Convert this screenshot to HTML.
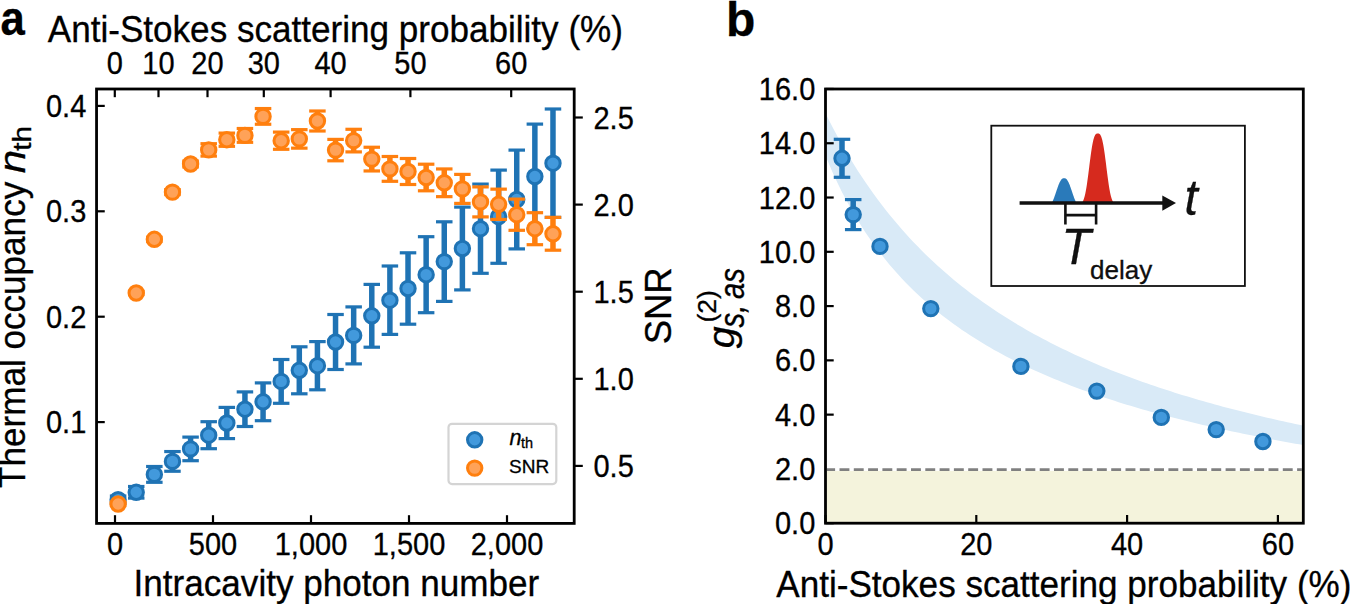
<!DOCTYPE html>
<html><head><meta charset="utf-8"><style>
html,body{margin:0;padding:0;background:#fff;}
body{width:1350px;height:604px;overflow:hidden;}
svg{display:block;}
text{font-family:"Liberation Sans", sans-serif;fill:#000;stroke:#000;stroke-width:0.3px;}
.tk{font-size:29.6px;}
.lab{font-size:35.8px;}
</style></head><body>
<svg width="1350" height="604" viewBox="0 0 1350 604">
<rect x="96.55" y="89.0" width="477.65000000000003" height="434.4" fill="none" stroke="#000" stroke-width="2.8"/>
<line x1="115.00" y1="523.4" x2="115.00" y2="515.1999999999999" stroke="#000" stroke-width="2.2"/>
<text transform="translate(115.00,554.80) scale(1.0,1.085)" text-anchor="middle" style="font-size:29.0px;" >0</text>
<line x1="213.00" y1="523.4" x2="213.00" y2="515.1999999999999" stroke="#000" stroke-width="2.2"/>
<text transform="translate(213.00,554.80) scale(1.0,1.085)" text-anchor="middle" style="font-size:29.0px;" >500</text>
<line x1="311.00" y1="523.4" x2="311.00" y2="515.1999999999999" stroke="#000" stroke-width="2.2"/>
<text transform="translate(311.00,554.80) scale(1.0,1.085)" text-anchor="middle" style="font-size:29.0px;" >1,000</text>
<line x1="409.00" y1="523.4" x2="409.00" y2="515.1999999999999" stroke="#000" stroke-width="2.2"/>
<text transform="translate(409.00,554.80) scale(1.0,1.085)" text-anchor="middle" style="font-size:29.0px;" >1,500</text>
<line x1="507.00" y1="523.4" x2="507.00" y2="515.1999999999999" stroke="#000" stroke-width="2.2"/>
<text transform="translate(507.00,554.80) scale(1.0,1.085)" text-anchor="middle" style="font-size:29.0px;" >2,000</text>
<line x1="114.8" y1="89.0" x2="114.8" y2="97.2" stroke="#000" stroke-width="2.2"/>
<text transform="translate(114.80,73.60) scale(1.0,1.085)" text-anchor="middle" style="font-size:29.0px;" >0</text>
<line x1="158.5" y1="89.0" x2="158.5" y2="97.2" stroke="#000" stroke-width="2.2"/>
<text transform="translate(158.50,73.60) scale(1.0,1.085)" text-anchor="middle" style="font-size:29.0px;" >10</text>
<line x1="207.5" y1="89.0" x2="207.5" y2="97.2" stroke="#000" stroke-width="2.2"/>
<text transform="translate(207.50,73.60) scale(1.0,1.085)" text-anchor="middle" style="font-size:29.0px;" >20</text>
<line x1="263.8" y1="89.0" x2="263.8" y2="97.2" stroke="#000" stroke-width="2.2"/>
<text transform="translate(263.80,73.60) scale(1.0,1.085)" text-anchor="middle" style="font-size:29.0px;" >30</text>
<line x1="330.6" y1="89.0" x2="330.6" y2="97.2" stroke="#000" stroke-width="2.2"/>
<text transform="translate(330.60,73.60) scale(1.0,1.085)" text-anchor="middle" style="font-size:29.0px;" >40</text>
<line x1="410.4" y1="89.0" x2="410.4" y2="97.2" stroke="#000" stroke-width="2.2"/>
<text transform="translate(410.40,73.60) scale(1.0,1.085)" text-anchor="middle" style="font-size:29.0px;" >50</text>
<line x1="511.2" y1="89.0" x2="511.2" y2="97.2" stroke="#000" stroke-width="2.2"/>
<text transform="translate(511.20,73.60) scale(1.0,1.085)" text-anchor="middle" style="font-size:29.0px;" >60</text>
<line x1="96.55" y1="422.10" x2="104.75" y2="422.10" stroke="#000" stroke-width="2.2"/>
<text transform="translate(86.30,433.10) scale(1.0,1.085)" text-anchor="end" style="font-size:29.0px;" >0.1</text>
<line x1="96.55" y1="316.70" x2="104.75" y2="316.70" stroke="#000" stroke-width="2.2"/>
<text transform="translate(86.30,327.70) scale(1.0,1.085)" text-anchor="end" style="font-size:29.0px;" >0.2</text>
<line x1="96.55" y1="211.30" x2="104.75" y2="211.30" stroke="#000" stroke-width="2.2"/>
<text transform="translate(86.30,222.30) scale(1.0,1.085)" text-anchor="end" style="font-size:29.0px;" >0.3</text>
<line x1="96.55" y1="105.90" x2="104.75" y2="105.90" stroke="#000" stroke-width="2.2"/>
<text transform="translate(86.30,116.90) scale(1.0,1.085)" text-anchor="end" style="font-size:29.0px;" >0.4</text>
<line x1="574.2" y1="465.90" x2="582.8000000000001" y2="465.90" stroke="#000" stroke-width="2.2"/>
<text transform="translate(593.50,476.90) scale(1.0,1.085)" text-anchor="start" style="font-size:29.0px;" >0.5</text>
<line x1="574.2" y1="378.80" x2="582.8000000000001" y2="378.80" stroke="#000" stroke-width="2.2"/>
<text transform="translate(593.50,389.80) scale(1.0,1.085)" text-anchor="start" style="font-size:29.0px;" >1.0</text>
<line x1="574.2" y1="291.70" x2="582.8000000000001" y2="291.70" stroke="#000" stroke-width="2.2"/>
<text transform="translate(593.50,302.70) scale(1.0,1.085)" text-anchor="start" style="font-size:29.0px;" >1.5</text>
<line x1="574.2" y1="204.60" x2="582.8000000000001" y2="204.60" stroke="#000" stroke-width="2.2"/>
<text transform="translate(593.50,215.60) scale(1.0,1.085)" text-anchor="start" style="font-size:29.0px;" >2.0</text>
<line x1="574.2" y1="117.50" x2="582.8000000000001" y2="117.50" stroke="#000" stroke-width="2.2"/>
<text transform="translate(593.50,128.50) scale(1.0,1.085)" text-anchor="start" style="font-size:29.0px;" >2.5</text>
<line x1="118.10" y1="496.00" x2="118.10" y2="503.40" stroke="#1f73b4" stroke-width="5.5"/>
<line x1="109.85" y1="496.00" x2="126.35" y2="496.00" stroke="#1f73b4" stroke-width="3.2"/>
<line x1="109.85" y1="503.40" x2="126.35" y2="503.40" stroke="#1f73b4" stroke-width="3.2"/>
<line x1="136.22" y1="486.50" x2="136.22" y2="498.10" stroke="#1f73b4" stroke-width="5.5"/>
<line x1="127.97" y1="486.50" x2="144.47" y2="486.50" stroke="#1f73b4" stroke-width="3.2"/>
<line x1="127.97" y1="498.10" x2="144.47" y2="498.10" stroke="#1f73b4" stroke-width="3.2"/>
<line x1="154.34" y1="466.50" x2="154.34" y2="482.30" stroke="#1f73b4" stroke-width="5.5"/>
<line x1="146.09" y1="466.50" x2="162.59" y2="466.50" stroke="#1f73b4" stroke-width="3.2"/>
<line x1="146.09" y1="482.30" x2="162.59" y2="482.30" stroke="#1f73b4" stroke-width="3.2"/>
<line x1="172.46" y1="451.55" x2="172.46" y2="471.25" stroke="#1f73b4" stroke-width="5.5"/>
<line x1="164.21" y1="451.55" x2="180.71" y2="451.55" stroke="#1f73b4" stroke-width="3.2"/>
<line x1="164.21" y1="471.25" x2="180.71" y2="471.25" stroke="#1f73b4" stroke-width="3.2"/>
<line x1="190.58" y1="437.10" x2="190.58" y2="460.70" stroke="#1f73b4" stroke-width="5.5"/>
<line x1="182.33" y1="437.10" x2="198.83" y2="437.10" stroke="#1f73b4" stroke-width="3.2"/>
<line x1="182.33" y1="460.70" x2="198.83" y2="460.70" stroke="#1f73b4" stroke-width="3.2"/>
<line x1="208.70" y1="421.70" x2="208.70" y2="448.70" stroke="#1f73b4" stroke-width="5.5"/>
<line x1="200.45" y1="421.70" x2="216.95" y2="421.70" stroke="#1f73b4" stroke-width="3.2"/>
<line x1="200.45" y1="448.70" x2="216.95" y2="448.70" stroke="#1f73b4" stroke-width="3.2"/>
<line x1="226.82" y1="407.40" x2="226.82" y2="438.60" stroke="#1f73b4" stroke-width="5.5"/>
<line x1="218.57" y1="407.40" x2="235.07" y2="407.40" stroke="#1f73b4" stroke-width="3.2"/>
<line x1="218.57" y1="438.60" x2="235.07" y2="438.60" stroke="#1f73b4" stroke-width="3.2"/>
<line x1="244.94" y1="391.90" x2="244.94" y2="426.50" stroke="#1f73b4" stroke-width="5.5"/>
<line x1="236.69" y1="391.90" x2="253.19" y2="391.90" stroke="#1f73b4" stroke-width="3.2"/>
<line x1="236.69" y1="426.50" x2="253.19" y2="426.50" stroke="#1f73b4" stroke-width="3.2"/>
<line x1="263.06" y1="382.90" x2="263.06" y2="420.70" stroke="#1f73b4" stroke-width="5.5"/>
<line x1="254.81" y1="382.90" x2="271.31" y2="382.90" stroke="#1f73b4" stroke-width="3.2"/>
<line x1="254.81" y1="420.70" x2="271.31" y2="420.70" stroke="#1f73b4" stroke-width="3.2"/>
<line x1="281.18" y1="359.50" x2="281.18" y2="403.30" stroke="#1f73b4" stroke-width="5.5"/>
<line x1="272.93" y1="359.50" x2="289.43" y2="359.50" stroke="#1f73b4" stroke-width="3.2"/>
<line x1="272.93" y1="403.30" x2="289.43" y2="403.30" stroke="#1f73b4" stroke-width="3.2"/>
<line x1="299.30" y1="346.80" x2="299.30" y2="393.80" stroke="#1f73b4" stroke-width="5.5"/>
<line x1="291.05" y1="346.80" x2="307.55" y2="346.80" stroke="#1f73b4" stroke-width="3.2"/>
<line x1="291.05" y1="393.80" x2="307.55" y2="393.80" stroke="#1f73b4" stroke-width="3.2"/>
<line x1="317.42" y1="341.60" x2="317.42" y2="389.80" stroke="#1f73b4" stroke-width="5.5"/>
<line x1="309.17" y1="341.60" x2="325.67" y2="341.60" stroke="#1f73b4" stroke-width="3.2"/>
<line x1="309.17" y1="389.80" x2="325.67" y2="389.80" stroke="#1f73b4" stroke-width="3.2"/>
<line x1="335.54" y1="314.50" x2="335.54" y2="369.50" stroke="#1f73b4" stroke-width="5.5"/>
<line x1="327.29" y1="314.50" x2="343.79" y2="314.50" stroke="#1f73b4" stroke-width="3.2"/>
<line x1="327.29" y1="369.50" x2="343.79" y2="369.50" stroke="#1f73b4" stroke-width="3.2"/>
<line x1="353.66" y1="306.90" x2="353.66" y2="363.90" stroke="#1f73b4" stroke-width="5.5"/>
<line x1="345.41" y1="306.90" x2="361.91" y2="306.90" stroke="#1f73b4" stroke-width="3.2"/>
<line x1="345.41" y1="363.90" x2="361.91" y2="363.90" stroke="#1f73b4" stroke-width="3.2"/>
<line x1="371.78" y1="284.40" x2="371.78" y2="347.20" stroke="#1f73b4" stroke-width="5.5"/>
<line x1="363.53" y1="284.40" x2="380.03" y2="284.40" stroke="#1f73b4" stroke-width="3.2"/>
<line x1="363.53" y1="347.20" x2="380.03" y2="347.20" stroke="#1f73b4" stroke-width="3.2"/>
<line x1="389.90" y1="266.00" x2="389.90" y2="334.40" stroke="#1f73b4" stroke-width="5.5"/>
<line x1="381.65" y1="266.00" x2="398.15" y2="266.00" stroke="#1f73b4" stroke-width="3.2"/>
<line x1="381.65" y1="334.40" x2="398.15" y2="334.40" stroke="#1f73b4" stroke-width="3.2"/>
<line x1="408.02" y1="252.80" x2="408.02" y2="324.20" stroke="#1f73b4" stroke-width="5.5"/>
<line x1="399.77" y1="252.80" x2="416.27" y2="252.80" stroke="#1f73b4" stroke-width="3.2"/>
<line x1="399.77" y1="324.20" x2="416.27" y2="324.20" stroke="#1f73b4" stroke-width="3.2"/>
<line x1="426.14" y1="236.70" x2="426.14" y2="312.70" stroke="#1f73b4" stroke-width="5.5"/>
<line x1="417.89" y1="236.70" x2="434.39" y2="236.70" stroke="#1f73b4" stroke-width="3.2"/>
<line x1="417.89" y1="312.70" x2="434.39" y2="312.70" stroke="#1f73b4" stroke-width="3.2"/>
<line x1="444.26" y1="221.80" x2="444.26" y2="301.40" stroke="#1f73b4" stroke-width="5.5"/>
<line x1="436.01" y1="221.80" x2="452.51" y2="221.80" stroke="#1f73b4" stroke-width="3.2"/>
<line x1="436.01" y1="301.40" x2="452.51" y2="301.40" stroke="#1f73b4" stroke-width="3.2"/>
<line x1="462.38" y1="207.10" x2="462.38" y2="289.90" stroke="#1f73b4" stroke-width="5.5"/>
<line x1="454.13" y1="207.10" x2="470.63" y2="207.10" stroke="#1f73b4" stroke-width="3.2"/>
<line x1="454.13" y1="289.90" x2="470.63" y2="289.90" stroke="#1f73b4" stroke-width="3.2"/>
<line x1="480.50" y1="184.10" x2="480.50" y2="273.30" stroke="#1f73b4" stroke-width="5.5"/>
<line x1="472.25" y1="184.10" x2="488.75" y2="184.10" stroke="#1f73b4" stroke-width="3.2"/>
<line x1="472.25" y1="273.30" x2="488.75" y2="273.30" stroke="#1f73b4" stroke-width="3.2"/>
<line x1="498.62" y1="170.10" x2="498.62" y2="263.30" stroke="#1f73b4" stroke-width="5.5"/>
<line x1="490.37" y1="170.10" x2="506.87" y2="170.10" stroke="#1f73b4" stroke-width="3.2"/>
<line x1="490.37" y1="263.30" x2="506.87" y2="263.30" stroke="#1f73b4" stroke-width="3.2"/>
<line x1="516.74" y1="150.10" x2="516.74" y2="248.90" stroke="#1f73b4" stroke-width="5.5"/>
<line x1="508.49" y1="150.10" x2="524.99" y2="150.10" stroke="#1f73b4" stroke-width="3.2"/>
<line x1="508.49" y1="248.90" x2="524.99" y2="248.90" stroke="#1f73b4" stroke-width="3.2"/>
<line x1="534.86" y1="124.10" x2="534.86" y2="228.90" stroke="#1f73b4" stroke-width="5.5"/>
<line x1="526.61" y1="124.10" x2="543.11" y2="124.10" stroke="#1f73b4" stroke-width="3.2"/>
<line x1="526.61" y1="228.90" x2="543.11" y2="228.90" stroke="#1f73b4" stroke-width="3.2"/>
<line x1="552.98" y1="109.00" x2="552.98" y2="217.40" stroke="#1f73b4" stroke-width="5.5"/>
<line x1="544.73" y1="109.00" x2="561.23" y2="109.00" stroke="#1f73b4" stroke-width="3.2"/>
<line x1="544.73" y1="217.40" x2="561.23" y2="217.40" stroke="#1f73b4" stroke-width="3.2"/>
<circle cx="118.10" cy="499.70" r="7.2" fill="#4299dc" stroke="#1f73b4" stroke-width="3.0"/>
<circle cx="136.22" cy="492.30" r="7.2" fill="#4299dc" stroke="#1f73b4" stroke-width="3.0"/>
<circle cx="154.34" cy="474.40" r="7.2" fill="#4299dc" stroke="#1f73b4" stroke-width="3.0"/>
<circle cx="172.46" cy="461.40" r="7.2" fill="#4299dc" stroke="#1f73b4" stroke-width="3.0"/>
<circle cx="190.58" cy="448.90" r="7.2" fill="#4299dc" stroke="#1f73b4" stroke-width="3.0"/>
<circle cx="208.70" cy="435.20" r="7.2" fill="#4299dc" stroke="#1f73b4" stroke-width="3.0"/>
<circle cx="226.82" cy="423.00" r="7.2" fill="#4299dc" stroke="#1f73b4" stroke-width="3.0"/>
<circle cx="244.94" cy="409.20" r="7.2" fill="#4299dc" stroke="#1f73b4" stroke-width="3.0"/>
<circle cx="263.06" cy="401.80" r="7.2" fill="#4299dc" stroke="#1f73b4" stroke-width="3.0"/>
<circle cx="281.18" cy="381.40" r="7.2" fill="#4299dc" stroke="#1f73b4" stroke-width="3.0"/>
<circle cx="299.30" cy="370.30" r="7.2" fill="#4299dc" stroke="#1f73b4" stroke-width="3.0"/>
<circle cx="317.42" cy="365.70" r="7.2" fill="#4299dc" stroke="#1f73b4" stroke-width="3.0"/>
<circle cx="335.54" cy="342.00" r="7.2" fill="#4299dc" stroke="#1f73b4" stroke-width="3.0"/>
<circle cx="353.66" cy="335.40" r="7.2" fill="#4299dc" stroke="#1f73b4" stroke-width="3.0"/>
<circle cx="371.78" cy="315.80" r="7.2" fill="#4299dc" stroke="#1f73b4" stroke-width="3.0"/>
<circle cx="389.90" cy="300.20" r="7.2" fill="#4299dc" stroke="#1f73b4" stroke-width="3.0"/>
<circle cx="408.02" cy="288.50" r="7.2" fill="#4299dc" stroke="#1f73b4" stroke-width="3.0"/>
<circle cx="426.14" cy="274.70" r="7.2" fill="#4299dc" stroke="#1f73b4" stroke-width="3.0"/>
<circle cx="444.26" cy="261.60" r="7.2" fill="#4299dc" stroke="#1f73b4" stroke-width="3.0"/>
<circle cx="462.38" cy="248.50" r="7.2" fill="#4299dc" stroke="#1f73b4" stroke-width="3.0"/>
<circle cx="480.50" cy="228.70" r="7.2" fill="#4299dc" stroke="#1f73b4" stroke-width="3.0"/>
<circle cx="498.62" cy="216.70" r="7.2" fill="#4299dc" stroke="#1f73b4" stroke-width="3.0"/>
<circle cx="516.74" cy="199.50" r="7.2" fill="#4299dc" stroke="#1f73b4" stroke-width="3.0"/>
<circle cx="534.86" cy="176.50" r="7.2" fill="#4299dc" stroke="#1f73b4" stroke-width="3.0"/>
<circle cx="552.98" cy="163.20" r="7.2" fill="#4299dc" stroke="#1f73b4" stroke-width="3.0"/>
<line x1="118.10" y1="502.50" x2="118.10" y2="505.50" stroke="#ff7f0e" stroke-width="5.5"/>
<line x1="109.85" y1="502.50" x2="126.35" y2="502.50" stroke="#ff7f0e" stroke-width="3.2"/>
<line x1="109.85" y1="505.50" x2="126.35" y2="505.50" stroke="#ff7f0e" stroke-width="3.2"/>
<line x1="136.22" y1="291.50" x2="136.22" y2="294.50" stroke="#ff7f0e" stroke-width="5.5"/>
<line x1="127.97" y1="291.50" x2="144.47" y2="291.50" stroke="#ff7f0e" stroke-width="3.2"/>
<line x1="127.97" y1="294.50" x2="144.47" y2="294.50" stroke="#ff7f0e" stroke-width="3.2"/>
<line x1="154.34" y1="237.30" x2="154.34" y2="241.30" stroke="#ff7f0e" stroke-width="5.5"/>
<line x1="146.09" y1="237.30" x2="162.59" y2="237.30" stroke="#ff7f0e" stroke-width="3.2"/>
<line x1="146.09" y1="241.30" x2="162.59" y2="241.30" stroke="#ff7f0e" stroke-width="3.2"/>
<line x1="172.46" y1="189.60" x2="172.46" y2="194.60" stroke="#ff7f0e" stroke-width="5.5"/>
<line x1="164.21" y1="189.60" x2="180.71" y2="189.60" stroke="#ff7f0e" stroke-width="3.2"/>
<line x1="164.21" y1="194.60" x2="180.71" y2="194.60" stroke="#ff7f0e" stroke-width="3.2"/>
<line x1="190.58" y1="161.00" x2="190.58" y2="167.00" stroke="#ff7f0e" stroke-width="5.5"/>
<line x1="182.33" y1="161.00" x2="198.83" y2="161.00" stroke="#ff7f0e" stroke-width="3.2"/>
<line x1="182.33" y1="167.00" x2="198.83" y2="167.00" stroke="#ff7f0e" stroke-width="3.2"/>
<line x1="208.70" y1="143.70" x2="208.70" y2="156.10" stroke="#ff7f0e" stroke-width="5.5"/>
<line x1="200.45" y1="143.70" x2="216.95" y2="143.70" stroke="#ff7f0e" stroke-width="3.2"/>
<line x1="200.45" y1="156.10" x2="216.95" y2="156.10" stroke="#ff7f0e" stroke-width="3.2"/>
<line x1="226.82" y1="133.10" x2="226.82" y2="146.30" stroke="#ff7f0e" stroke-width="5.5"/>
<line x1="218.57" y1="133.10" x2="235.07" y2="133.10" stroke="#ff7f0e" stroke-width="3.2"/>
<line x1="218.57" y1="146.30" x2="235.07" y2="146.30" stroke="#ff7f0e" stroke-width="3.2"/>
<line x1="244.94" y1="128.50" x2="244.94" y2="142.30" stroke="#ff7f0e" stroke-width="5.5"/>
<line x1="236.69" y1="128.50" x2="253.19" y2="128.50" stroke="#ff7f0e" stroke-width="3.2"/>
<line x1="236.69" y1="142.30" x2="253.19" y2="142.30" stroke="#ff7f0e" stroke-width="3.2"/>
<line x1="263.06" y1="108.55" x2="263.06" y2="124.25" stroke="#ff7f0e" stroke-width="5.5"/>
<line x1="254.81" y1="108.55" x2="271.31" y2="108.55" stroke="#ff7f0e" stroke-width="3.2"/>
<line x1="254.81" y1="124.25" x2="271.31" y2="124.25" stroke="#ff7f0e" stroke-width="3.2"/>
<line x1="281.18" y1="132.10" x2="281.18" y2="149.30" stroke="#ff7f0e" stroke-width="5.5"/>
<line x1="272.93" y1="132.10" x2="289.43" y2="132.10" stroke="#ff7f0e" stroke-width="3.2"/>
<line x1="272.93" y1="149.30" x2="289.43" y2="149.30" stroke="#ff7f0e" stroke-width="3.2"/>
<line x1="299.30" y1="129.65" x2="299.30" y2="148.15" stroke="#ff7f0e" stroke-width="5.5"/>
<line x1="291.05" y1="129.65" x2="307.55" y2="129.65" stroke="#ff7f0e" stroke-width="3.2"/>
<line x1="291.05" y1="148.15" x2="307.55" y2="148.15" stroke="#ff7f0e" stroke-width="3.2"/>
<line x1="317.42" y1="111.00" x2="317.42" y2="131.00" stroke="#ff7f0e" stroke-width="5.5"/>
<line x1="309.17" y1="111.00" x2="325.67" y2="111.00" stroke="#ff7f0e" stroke-width="3.2"/>
<line x1="309.17" y1="131.00" x2="325.67" y2="131.00" stroke="#ff7f0e" stroke-width="3.2"/>
<line x1="335.54" y1="139.40" x2="335.54" y2="160.80" stroke="#ff7f0e" stroke-width="5.5"/>
<line x1="327.29" y1="139.40" x2="343.79" y2="139.40" stroke="#ff7f0e" stroke-width="3.2"/>
<line x1="327.29" y1="160.80" x2="343.79" y2="160.80" stroke="#ff7f0e" stroke-width="3.2"/>
<line x1="353.66" y1="129.30" x2="353.66" y2="151.90" stroke="#ff7f0e" stroke-width="5.5"/>
<line x1="345.41" y1="129.30" x2="361.91" y2="129.30" stroke="#ff7f0e" stroke-width="3.2"/>
<line x1="345.41" y1="151.90" x2="361.91" y2="151.90" stroke="#ff7f0e" stroke-width="3.2"/>
<line x1="371.78" y1="147.25" x2="371.78" y2="170.95" stroke="#ff7f0e" stroke-width="5.5"/>
<line x1="363.53" y1="147.25" x2="380.03" y2="147.25" stroke="#ff7f0e" stroke-width="3.2"/>
<line x1="363.53" y1="170.95" x2="380.03" y2="170.95" stroke="#ff7f0e" stroke-width="3.2"/>
<line x1="389.90" y1="156.50" x2="389.90" y2="181.30" stroke="#ff7f0e" stroke-width="5.5"/>
<line x1="381.65" y1="156.50" x2="398.15" y2="156.50" stroke="#ff7f0e" stroke-width="3.2"/>
<line x1="381.65" y1="181.30" x2="398.15" y2="181.30" stroke="#ff7f0e" stroke-width="3.2"/>
<line x1="408.02" y1="158.50" x2="408.02" y2="184.50" stroke="#ff7f0e" stroke-width="5.5"/>
<line x1="399.77" y1="158.50" x2="416.27" y2="158.50" stroke="#ff7f0e" stroke-width="3.2"/>
<line x1="399.77" y1="184.50" x2="416.27" y2="184.50" stroke="#ff7f0e" stroke-width="3.2"/>
<line x1="426.14" y1="164.20" x2="426.14" y2="190.80" stroke="#ff7f0e" stroke-width="5.5"/>
<line x1="417.89" y1="164.20" x2="434.39" y2="164.20" stroke="#ff7f0e" stroke-width="3.2"/>
<line x1="417.89" y1="190.80" x2="434.39" y2="190.80" stroke="#ff7f0e" stroke-width="3.2"/>
<line x1="444.26" y1="168.95" x2="444.26" y2="196.65" stroke="#ff7f0e" stroke-width="5.5"/>
<line x1="436.01" y1="168.95" x2="452.51" y2="168.95" stroke="#ff7f0e" stroke-width="3.2"/>
<line x1="436.01" y1="196.65" x2="452.51" y2="196.65" stroke="#ff7f0e" stroke-width="3.2"/>
<line x1="462.38" y1="174.40" x2="462.38" y2="203.40" stroke="#ff7f0e" stroke-width="5.5"/>
<line x1="454.13" y1="174.40" x2="470.63" y2="174.40" stroke="#ff7f0e" stroke-width="3.2"/>
<line x1="454.13" y1="203.40" x2="470.63" y2="203.40" stroke="#ff7f0e" stroke-width="3.2"/>
<line x1="480.50" y1="186.90" x2="480.50" y2="216.90" stroke="#ff7f0e" stroke-width="5.5"/>
<line x1="472.25" y1="186.90" x2="488.75" y2="186.90" stroke="#ff7f0e" stroke-width="3.2"/>
<line x1="472.25" y1="216.90" x2="488.75" y2="216.90" stroke="#ff7f0e" stroke-width="3.2"/>
<line x1="498.62" y1="189.15" x2="498.62" y2="219.45" stroke="#ff7f0e" stroke-width="5.5"/>
<line x1="490.37" y1="189.15" x2="506.87" y2="189.15" stroke="#ff7f0e" stroke-width="3.2"/>
<line x1="490.37" y1="219.45" x2="506.87" y2="219.45" stroke="#ff7f0e" stroke-width="3.2"/>
<line x1="516.74" y1="199.10" x2="516.74" y2="230.30" stroke="#ff7f0e" stroke-width="5.5"/>
<line x1="508.49" y1="199.10" x2="524.99" y2="199.10" stroke="#ff7f0e" stroke-width="3.2"/>
<line x1="508.49" y1="230.30" x2="524.99" y2="230.30" stroke="#ff7f0e" stroke-width="3.2"/>
<line x1="534.86" y1="212.70" x2="534.86" y2="244.70" stroke="#ff7f0e" stroke-width="5.5"/>
<line x1="526.61" y1="212.70" x2="543.11" y2="212.70" stroke="#ff7f0e" stroke-width="3.2"/>
<line x1="526.61" y1="244.70" x2="543.11" y2="244.70" stroke="#ff7f0e" stroke-width="3.2"/>
<line x1="552.98" y1="217.40" x2="552.98" y2="250.20" stroke="#ff7f0e" stroke-width="5.5"/>
<line x1="544.73" y1="217.40" x2="561.23" y2="217.40" stroke="#ff7f0e" stroke-width="3.2"/>
<line x1="544.73" y1="250.20" x2="561.23" y2="250.20" stroke="#ff7f0e" stroke-width="3.2"/>
<circle cx="118.10" cy="504.00" r="7.2" fill="#ffa258" stroke="#ff7f0e" stroke-width="3.0"/>
<circle cx="136.22" cy="293.00" r="7.2" fill="#ffa258" stroke="#ff7f0e" stroke-width="3.0"/>
<circle cx="154.34" cy="239.30" r="7.2" fill="#ffa258" stroke="#ff7f0e" stroke-width="3.0"/>
<circle cx="172.46" cy="192.10" r="7.2" fill="#ffa258" stroke="#ff7f0e" stroke-width="3.0"/>
<circle cx="190.58" cy="164.00" r="7.2" fill="#ffa258" stroke="#ff7f0e" stroke-width="3.0"/>
<circle cx="208.70" cy="149.90" r="7.2" fill="#ffa258" stroke="#ff7f0e" stroke-width="3.0"/>
<circle cx="226.82" cy="139.70" r="7.2" fill="#ffa258" stroke="#ff7f0e" stroke-width="3.0"/>
<circle cx="244.94" cy="135.40" r="7.2" fill="#ffa258" stroke="#ff7f0e" stroke-width="3.0"/>
<circle cx="263.06" cy="116.40" r="7.2" fill="#ffa258" stroke="#ff7f0e" stroke-width="3.0"/>
<circle cx="281.18" cy="140.70" r="7.2" fill="#ffa258" stroke="#ff7f0e" stroke-width="3.0"/>
<circle cx="299.30" cy="138.90" r="7.2" fill="#ffa258" stroke="#ff7f0e" stroke-width="3.0"/>
<circle cx="317.42" cy="121.00" r="7.2" fill="#ffa258" stroke="#ff7f0e" stroke-width="3.0"/>
<circle cx="335.54" cy="150.10" r="7.2" fill="#ffa258" stroke="#ff7f0e" stroke-width="3.0"/>
<circle cx="353.66" cy="140.60" r="7.2" fill="#ffa258" stroke="#ff7f0e" stroke-width="3.0"/>
<circle cx="371.78" cy="159.10" r="7.2" fill="#ffa258" stroke="#ff7f0e" stroke-width="3.0"/>
<circle cx="389.90" cy="168.90" r="7.2" fill="#ffa258" stroke="#ff7f0e" stroke-width="3.0"/>
<circle cx="408.02" cy="171.50" r="7.2" fill="#ffa258" stroke="#ff7f0e" stroke-width="3.0"/>
<circle cx="426.14" cy="177.50" r="7.2" fill="#ffa258" stroke="#ff7f0e" stroke-width="3.0"/>
<circle cx="444.26" cy="182.80" r="7.2" fill="#ffa258" stroke="#ff7f0e" stroke-width="3.0"/>
<circle cx="462.38" cy="188.90" r="7.2" fill="#ffa258" stroke="#ff7f0e" stroke-width="3.0"/>
<circle cx="480.50" cy="201.90" r="7.2" fill="#ffa258" stroke="#ff7f0e" stroke-width="3.0"/>
<circle cx="498.62" cy="204.30" r="7.2" fill="#ffa258" stroke="#ff7f0e" stroke-width="3.0"/>
<circle cx="516.74" cy="214.70" r="7.2" fill="#ffa258" stroke="#ff7f0e" stroke-width="3.0"/>
<circle cx="534.86" cy="228.70" r="7.2" fill="#ffa258" stroke="#ff7f0e" stroke-width="3.0"/>
<circle cx="552.98" cy="233.80" r="7.2" fill="#ffa258" stroke="#ff7f0e" stroke-width="3.0"/>
<rect x="448.5" y="423.8" width="107.8" height="60.3" rx="3.5" fill="#fff" stroke="#d4d4d4" stroke-width="2.2"/>
<circle cx="474.7" cy="439.8" r="7.2" fill="#4299dc" stroke="#1f73b4" stroke-width="3.0"/>
<circle cx="474.7" cy="468.1" r="7.2" fill="#ffa258" stroke="#ff7f0e" stroke-width="3.0"/>
<text x="509.5" y="445" style="font-size:21.6px;font-style:italic">n</text>
<text x="521" y="448" style="font-size:14.5px">th</text>
<text x="509" y="473.3" style="font-size:19px">SNR</text>
<text transform="translate(0.50,34.80) scale(0.91,1.0)" text-anchor="start" style="font-size:48px;font-weight:bold" >a</text>
<text transform="translate(47.80,42.10) scale(1.0,1.07)" text-anchor="start" style="font-size:35.1px;" >Anti-Stokes scattering probability (%)</text>
<text transform="translate(336.40,596.40) scale(1.0,1.07)" text-anchor="middle" style="font-size:35.1px;" >Intracavity photon number</text>
<text transform="translate(671.00,305.80) rotate(-90) scale(1.04,1.07)" text-anchor="middle" style="font-size:35.1px;" >SNR</text>
<text transform="translate(25.40,487.90) rotate(-90) scale(1.0,1.07)" text-anchor="start" style="font-size:35.1px;" >Thermal occupancy</text>
<text transform="translate(25.30,173.30) rotate(-90) scale(1.2,1.07)" text-anchor="start" style="font-size:35.1px;font-style:italic" >n</text>
<text transform="translate(30.80,150.80) rotate(-90) scale(1.22,1.07)" text-anchor="start" style="font-size:24.2px;" >th</text>
<rect x="825.5" y="470.9" width="477.79999999999995" height="52.30000000000007" fill="#f4f3dc"/>
<path d="M825.50,113.19 L829.52,121.21 L833.53,128.96 L837.55,136.45 L841.56,143.68 L845.58,150.69 L849.59,157.47 L853.61,164.03 L857.62,170.39 L861.64,176.56 L865.65,182.54 L869.67,188.35 L873.68,193.98 L877.70,199.45 L881.71,204.77 L885.73,209.94 L889.74,214.97 L893.76,219.85 L897.77,224.61 L901.79,229.24 L905.80,233.75 L909.82,238.15 L913.83,242.43 L917.85,246.60 L921.86,250.67 L925.88,254.64 L929.89,258.52 L933.91,262.30 L937.92,265.99 L941.94,269.59 L945.95,273.12 L949.97,276.56 L953.98,279.92 L958.00,283.21 L962.01,286.42 L966.03,289.57 L970.04,292.64 L974.06,295.66 L978.07,298.60 L982.09,301.49 L986.11,304.31 L990.12,307.08 L994.14,309.79 L998.15,312.45 L1002.17,315.05 L1006.18,317.60 L1010.20,320.11 L1014.21,322.56 L1018.23,324.97 L1022.24,327.33 L1026.26,329.65 L1030.27,331.92 L1034.29,334.15 L1038.30,336.34 L1042.32,338.49 L1046.33,340.61 L1050.35,342.68 L1054.36,344.72 L1058.38,346.72 L1062.39,348.69 L1066.41,350.62 L1070.42,352.53 L1074.44,354.40 L1078.45,356.23 L1082.47,358.04 L1086.48,359.82 L1090.50,361.57 L1094.51,363.29 L1098.53,364.98 L1102.54,366.64 L1106.56,368.28 L1110.57,369.90 L1114.59,371.48 L1118.60,373.05 L1122.62,374.59 L1126.63,376.10 L1130.65,377.60 L1134.66,379.07 L1138.68,380.52 L1142.69,381.94 L1146.71,383.35 L1150.73,384.74 L1154.74,386.10 L1158.76,387.45 L1162.77,388.78 L1166.79,390.08 L1170.80,391.37 L1174.82,392.65 L1178.83,393.90 L1182.85,395.14 L1186.86,396.36 L1190.88,397.56 L1194.89,398.75 L1198.91,399.92 L1202.92,401.08 L1206.94,402.22 L1210.95,403.34 L1214.97,404.45 L1218.98,405.55 L1223.00,406.63 L1227.01,407.70 L1231.03,408.75 L1235.04,409.80 L1239.06,410.82 L1243.07,411.84 L1247.09,412.84 L1251.10,413.83 L1255.12,414.81 L1259.13,415.78 L1263.15,416.73 L1267.16,417.68 L1271.18,418.61 L1275.19,419.53 L1279.21,420.44 L1283.22,421.34 L1287.24,422.23 L1291.25,423.11 L1295.27,423.98 L1299.28,424.84 L1303.30,425.68 L1303.30,445.03 L1299.28,444.34 L1295.27,443.63 L1291.25,442.92 L1287.24,442.20 L1283.22,441.47 L1279.21,440.73 L1275.19,439.98 L1271.18,439.23 L1267.16,438.47 L1263.15,437.70 L1259.13,436.91 L1255.12,436.12 L1251.10,435.32 L1247.09,434.52 L1243.07,433.70 L1239.06,432.87 L1235.04,432.03 L1231.03,431.18 L1227.01,430.32 L1223.00,429.45 L1218.98,428.57 L1214.97,427.67 L1210.95,426.77 L1206.94,425.85 L1202.92,424.93 L1198.91,423.99 L1194.89,423.03 L1190.88,422.07 L1186.86,421.09 L1182.85,420.10 L1178.83,419.09 L1174.82,418.07 L1170.80,417.04 L1166.79,415.99 L1162.77,414.93 L1158.76,413.85 L1154.74,412.75 L1150.73,411.64 L1146.71,410.52 L1142.69,409.38 L1138.68,408.22 L1134.66,407.04 L1130.65,405.84 L1126.63,404.63 L1122.62,403.39 L1118.60,402.14 L1114.59,400.87 L1110.57,399.58 L1106.56,398.26 L1102.54,396.93 L1098.53,395.57 L1094.51,394.19 L1090.50,392.78 L1086.48,391.36 L1082.47,389.90 L1078.45,388.42 L1074.44,386.92 L1070.42,385.39 L1066.41,383.83 L1062.39,382.24 L1058.38,380.62 L1054.36,378.98 L1050.35,377.30 L1046.33,375.59 L1042.32,373.84 L1038.30,372.07 L1034.29,370.25 L1030.27,368.40 L1026.26,366.51 L1022.24,364.59 L1018.23,362.62 L1014.21,360.61 L1010.20,358.56 L1006.18,356.46 L1002.17,354.31 L998.15,352.12 L994.14,349.88 L990.12,347.59 L986.11,345.24 L982.09,342.84 L978.07,340.37 L974.06,337.85 L970.04,335.27 L966.03,332.62 L962.01,329.90 L958.00,327.11 L953.98,324.25 L949.97,321.31 L945.95,318.28 L941.94,315.18 L937.92,311.98 L933.91,308.69 L929.89,305.31 L925.88,301.82 L921.86,298.23 L917.85,294.52 L913.83,290.70 L909.82,286.75 L905.80,282.67 L901.79,278.45 L897.77,274.09 L893.76,269.57 L889.74,264.88 L885.73,260.02 L881.71,254.98 L877.70,249.74 L873.68,244.29 L869.67,238.62 L865.65,232.71 L861.64,226.54 L857.62,220.10 L853.61,213.37 L849.59,206.32 L845.58,198.93 L841.56,191.17 L837.55,183.00 L833.53,174.41 L829.52,165.33 L825.50,155.74 Z" fill="#d9eaf7"/>
<rect x="825.5" y="89.0" width="477.79999999999995" height="434.20000000000005" fill="none" stroke="#000" stroke-width="2.8"/>
<line x1="825.5" y1="523.20" x2="833.7" y2="523.20" stroke="#000" stroke-width="2.2"/>
<text transform="translate(815.30,534.20) scale(1.0,1.085)" text-anchor="end" style="font-size:29.0px;" >0.0</text>
<text transform="translate(815.30,479.92) scale(1.0,1.085)" text-anchor="end" style="font-size:29.0px;" >2.0</text>
<line x1="825.5" y1="414.64" x2="833.7" y2="414.64" stroke="#000" stroke-width="2.2"/>
<text transform="translate(815.30,425.64) scale(1.0,1.085)" text-anchor="end" style="font-size:29.0px;" >4.0</text>
<line x1="825.5" y1="360.36" x2="833.7" y2="360.36" stroke="#000" stroke-width="2.2"/>
<text transform="translate(815.30,371.36) scale(1.0,1.085)" text-anchor="end" style="font-size:29.0px;" >6.0</text>
<line x1="825.5" y1="306.08" x2="833.7" y2="306.08" stroke="#000" stroke-width="2.2"/>
<text transform="translate(815.30,317.08) scale(1.0,1.085)" text-anchor="end" style="font-size:29.0px;" >8.0</text>
<line x1="825.5" y1="251.80" x2="833.7" y2="251.80" stroke="#000" stroke-width="2.2"/>
<text transform="translate(815.30,262.80) scale(1.0,1.085)" text-anchor="end" style="font-size:29.0px;" >10.0</text>
<line x1="825.5" y1="197.52" x2="833.7" y2="197.52" stroke="#000" stroke-width="2.2"/>
<text transform="translate(815.30,208.52) scale(1.0,1.085)" text-anchor="end" style="font-size:29.0px;" >12.0</text>
<line x1="825.5" y1="143.24" x2="833.7" y2="143.24" stroke="#000" stroke-width="2.2"/>
<text transform="translate(815.30,154.24) scale(1.0,1.085)" text-anchor="end" style="font-size:29.0px;" >14.0</text>
<line x1="825.5" y1="88.96" x2="833.7" y2="88.96" stroke="#000" stroke-width="2.2"/>
<text transform="translate(815.30,99.96) scale(1.0,1.085)" text-anchor="end" style="font-size:29.0px;" >16.0</text>
<line x1="825.50" y1="523.2" x2="825.50" y2="515.0" stroke="#000" stroke-width="2.2"/>
<text transform="translate(825.50,554.60) scale(1.0,1.085)" text-anchor="middle" style="font-size:29.0px;" >0</text>
<line x1="976.30" y1="523.2" x2="976.30" y2="515.0" stroke="#000" stroke-width="2.2"/>
<text transform="translate(976.30,554.60) scale(1.0,1.085)" text-anchor="middle" style="font-size:29.0px;" >20</text>
<line x1="1127.10" y1="523.2" x2="1127.10" y2="515.0" stroke="#000" stroke-width="2.2"/>
<text transform="translate(1127.10,554.60) scale(1.0,1.085)" text-anchor="middle" style="font-size:29.0px;" >40</text>
<line x1="1277.90" y1="523.2" x2="1277.90" y2="515.0" stroke="#000" stroke-width="2.2"/>
<text transform="translate(1277.90,554.60) scale(1.0,1.085)" text-anchor="middle" style="font-size:29.0px;" >60</text>
<line x1="827.0" y1="469.6" x2="1301.8999999999999" y2="469.6" stroke="#808080" stroke-width="2.7" stroke-dasharray="9.9 4.4" stroke-dashoffset="1.8"/>
<line x1="842.0" y1="139.3" x2="842.0" y2="177.3" stroke="#1f73b4" stroke-width="5.5"/>
<line x1="833.75" y1="139.3" x2="850.25" y2="139.3" stroke="#1f73b4" stroke-width="3.2"/>
<line x1="833.75" y1="177.3" x2="850.25" y2="177.3" stroke="#1f73b4" stroke-width="3.2"/>
<line x1="853.2" y1="199.6" x2="853.2" y2="229.6" stroke="#1f73b4" stroke-width="5.5"/>
<line x1="844.95" y1="199.6" x2="861.45" y2="199.6" stroke="#1f73b4" stroke-width="3.2"/>
<line x1="844.95" y1="229.6" x2="861.45" y2="229.6" stroke="#1f73b4" stroke-width="3.2"/>
<circle cx="842.0" cy="158.3" r="7.2" fill="#4299dc" stroke="#1f73b4" stroke-width="3.0"/>
<circle cx="853.2" cy="214.6" r="7.2" fill="#4299dc" stroke="#1f73b4" stroke-width="3.0"/>
<circle cx="880.0" cy="246.4" r="7.2" fill="#4299dc" stroke="#1f73b4" stroke-width="3.0"/>
<circle cx="930.8" cy="308.6" r="7.2" fill="#4299dc" stroke="#1f73b4" stroke-width="3.0"/>
<circle cx="1020.9" cy="366.4" r="7.2" fill="#4299dc" stroke="#1f73b4" stroke-width="3.0"/>
<circle cx="1096.8" cy="391.1" r="7.2" fill="#4299dc" stroke="#1f73b4" stroke-width="3.0"/>
<circle cx="1161.3" cy="417.4" r="7.2" fill="#4299dc" stroke="#1f73b4" stroke-width="3.0"/>
<circle cx="1216.2" cy="429.6" r="7.2" fill="#4299dc" stroke="#1f73b4" stroke-width="3.0"/>
<circle cx="1262.9" cy="441.5" r="7.2" fill="#4299dc" stroke="#1f73b4" stroke-width="3.0"/>
<rect x="991.3" y="125.7" width="253.6" height="160.3" fill="#fff" stroke="#111" stroke-width="1.8"/>
<path d="M1052.54,203.50 L1052.54,201.40 L1052.83,200.77 L1053.12,200.11 L1053.42,199.41 L1053.71,198.69 L1054.00,197.94 L1054.29,197.16 L1054.59,196.36 L1054.88,195.53 L1055.17,194.70 L1055.47,193.84 L1055.76,192.98 L1056.05,192.11 L1056.34,191.23 L1056.64,190.36 L1056.93,189.49 L1057.22,188.63 L1057.51,187.79 L1057.81,186.96 L1058.10,186.15 L1058.39,185.37 L1058.68,184.62 L1058.98,183.90 L1059.27,183.21 L1059.56,182.57 L1059.86,181.96 L1060.15,181.40 L1060.44,180.88 L1060.73,180.41 L1061.03,179.99 L1061.32,179.61 L1061.61,179.28 L1061.90,179.00 L1062.20,178.76 L1062.49,178.57 L1062.78,178.42 L1063.08,178.31 L1063.37,178.23 L1063.66,178.19 L1063.95,178.17 L1064.25,178.17 L1064.54,178.19 L1064.83,178.23 L1065.12,178.31 L1065.42,178.42 L1065.71,178.57 L1066.00,178.76 L1066.30,179.00 L1066.59,179.28 L1066.88,179.61 L1067.17,179.99 L1067.47,180.41 L1067.76,180.88 L1068.05,181.40 L1068.34,181.96 L1068.64,182.57 L1068.93,183.21 L1069.22,183.90 L1069.52,184.62 L1069.81,185.37 L1070.10,186.15 L1070.39,186.96 L1070.69,187.79 L1070.98,188.63 L1071.27,189.49 L1071.56,190.36 L1071.86,191.23 L1072.15,192.11 L1072.44,192.98 L1072.73,193.84 L1073.03,194.70 L1073.32,195.53 L1073.61,196.36 L1073.91,197.16 L1074.20,197.94 L1074.49,198.69 L1074.78,199.41 L1075.08,200.11 L1075.37,200.77 L1075.66,201.40 L1075.66,203.50 Z" fill="#2a7aba"/>
<path d="M1082.69,203.50 L1082.69,201.60 L1083.07,200.88 L1083.45,200.03 L1083.84,199.02 L1084.22,197.85 L1084.60,196.50 L1084.98,194.97 L1085.37,193.25 L1085.75,191.33 L1086.13,189.23 L1086.51,186.94 L1086.90,184.47 L1087.28,181.85 L1087.66,179.09 L1088.04,176.21 L1088.43,173.25 L1088.81,170.22 L1089.19,167.16 L1089.57,164.11 L1089.96,161.09 L1090.34,158.14 L1090.72,155.28 L1091.11,152.55 L1091.49,149.96 L1091.87,147.54 L1092.25,145.31 L1092.64,143.27 L1093.02,141.45 L1093.40,139.83 L1093.78,138.42 L1094.17,137.22 L1094.55,136.21 L1094.93,135.40 L1095.31,134.75 L1095.70,134.27 L1096.08,133.92 L1096.46,133.69 L1096.84,133.55 L1097.23,133.49 L1097.61,133.47 L1097.99,133.47 L1098.37,133.49 L1098.76,133.55 L1099.14,133.69 L1099.52,133.92 L1099.90,134.27 L1100.29,134.75 L1100.67,135.40 L1101.05,136.21 L1101.43,137.22 L1101.82,138.42 L1102.20,139.83 L1102.58,141.45 L1102.96,143.27 L1103.35,145.31 L1103.73,147.54 L1104.11,149.96 L1104.49,152.55 L1104.88,155.28 L1105.26,158.14 L1105.64,161.09 L1106.03,164.11 L1106.41,167.16 L1106.79,170.22 L1107.17,173.25 L1107.56,176.21 L1107.94,179.09 L1108.32,181.85 L1108.70,184.47 L1109.09,186.94 L1109.47,189.23 L1109.85,191.33 L1110.23,193.25 L1110.62,194.97 L1111.00,196.50 L1111.38,197.85 L1111.76,199.02 L1112.15,200.03 L1112.53,200.88 L1112.91,201.60 L1112.91,203.50 Z" fill="#d62a1e"/>
<line x1="1019.6" y1="203.0" x2="1164" y2="203.0" stroke="#111" stroke-width="3.4"/>
<path d="M1162.3,195.4 L1176.0,203.0 L1162.3,210.8 Z" fill="#111"/>
<path d="M1065.4,203.7 V224.6 M1096.1,203.7 V224.6 M1065.4,215.1 H1096.1" stroke="#111" stroke-width="2.6" fill="none"/>
<text transform="translate(1184.50,215.00) scale(1.0,1.05)" text-anchor="start" style="font-size:48px;font-style:italic;fill:#111" >t</text>
<text transform="translate(1061.60,264.20) scale(1.0,1.05)" text-anchor="start" style="font-size:48px;font-style:italic;fill:#111" >T</text>
<text transform="translate(1090.00,279.00)" text-anchor="start" style="font-size:26px;fill:#111" >delay</text>
<text x="726" y="35.8" style="font-size:48px;font-weight:bold">b</text>
<text transform="translate(776.30,597.00) scale(1.0,1.07)" text-anchor="start" style="font-size:35.1px;" >Anti-Stokes scattering probability (%)</text>
<text transform="translate(733.50,348.20) rotate(-90) scale(1.12,1.07)" text-anchor="start" style="font-size:35.1px;font-style:italic" >g</text>
<text transform="translate(716.00,322.50) rotate(-90)" text-anchor="start" style="font-size:26.5px;" >(2)</text>
<text transform="translate(744.00,327.50) rotate(-90) scale(1.0,1.21)" text-anchor="start" style="font-size:29.1px;font-style:italic" >s,&#8201;as</text>
</svg></body></html>
